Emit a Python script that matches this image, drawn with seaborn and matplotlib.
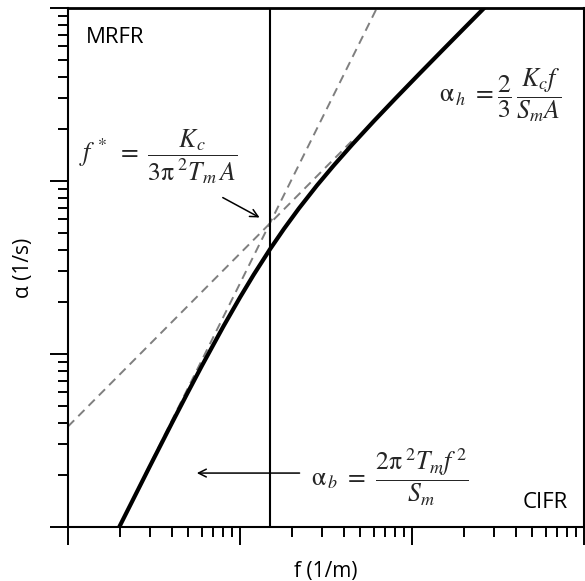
import matplotlib
matplotlib.use("Agg")
import matplotlib.pyplot as plt
import matplotlib.ticker as mticker
import seaborn as sns
import pandas as pd

# Combined attenuation curve alpha(f)
freq = [1.95, 2, 3, 4, 5, 6, 8, 10, 12, 14.9, 18, 22, 28, 35, 45, 60, 80, 110, 150, 200, 265]
alpha = [0.964, 1.014, 2.257, 3.953, 6.062, 8.542, 14.42, 21.24, 28.69, 40.16, 52.84,
         69.41, 94.2, 122.7, 162.8, 221.9, 299.6, 415.3, 568.7, 759.9, 1008.1]

# Asymptotes: bending (slope 2) and hinge (slope 1)
bend_f = [1.977, 62.5]
bend_a = [1.0, 1000.0]
hinge_f = [1.0, 44.5]
hinge_a = [3.81, 169.5]

# Crossover frequency
f_star = 14.9

sns.set_theme(style="ticks")
plt.rcParams["font.family"] = ["Open Sans", "DejaVu Sans"]
plt.rcParams["mathtext.fontset"] = "stix"

fig = plt.figure(figsize=(5.85, 5.81), dpi=100)
ax = fig.add_axes([68 / 585, 54 / 581, 516 / 585, 519 / 581])

curve = pd.DataFrame({"f": freq, "alpha": alpha})
bend = pd.DataFrame({"f": bend_f, "alpha": bend_a})
hinge = pd.DataFrame({"f": hinge_f, "alpha": hinge_a})

dash = (4.5, 3)
sns.lineplot(data=bend, x="f", y="alpha", ax=ax, color="#7f7f7f", lw=1.4,
             estimator=None, sort=False, linestyle=(0, dash))
sns.lineplot(data=hinge, x="f", y="alpha", ax=ax, color="#7f7f7f", lw=1.4,
             estimator=None, sort=False, linestyle=(0, dash))
sns.lineplot(data=curve, x="f", y="alpha", ax=ax, color="black", lw=3.0,
             estimator=None, sort=False)
ax.axvline(f_star, color="black", lw=1.5)

ax.set_xscale("log")
ax.set_yscale("log")
ax.set_xlim(1, 1000)
ax.set_ylim(1, 1000)

ax.xaxis.set_major_locator(mticker.LogLocator(base=10, numticks=10))
ax.yaxis.set_major_locator(mticker.LogLocator(base=10, numticks=10))
ax.xaxis.set_minor_locator(mticker.LogLocator(base=10, subs=range(2, 10), numticks=20))
ax.yaxis.set_minor_locator(mticker.LogLocator(base=10, subs=range(2, 10), numticks=20))
ax.xaxis.set_major_formatter(mticker.NullFormatter())
ax.yaxis.set_major_formatter(mticker.NullFormatter())
ax.xaxis.set_minor_formatter(mticker.NullFormatter())
ax.yaxis.set_minor_formatter(mticker.NullFormatter())
ax.tick_params(which="major", direction="out", length=13, width=1.4, color="black")
ax.tick_params(which="minor", direction="out", length=7, width=1.4, color="black")

for side in ["left", "right", "top", "bottom"]:
    ax.spines[side].set_visible(True)
    ax.spines[side].set_linewidth(1.5)
    ax.spines[side].set_color("black")
ax.spines["top"].set_linewidth(2.0)

ax.set_xlabel("f (1/m)", fontsize=15, labelpad=8, color="black")
ax.set_ylabel("α (1/s)", fontsize=15, labelpad=8, color="black")

ax.text(0.035, 0.963, "MRFR", transform=ax.transAxes, ha="left", va="top",
        fontsize=16, color="black")
ax.text(0.969, 0.027, "CIFR", transform=ax.transAxes, ha="right", va="bottom",
        fontsize=16, color="black")

ax.text(0.174, 0.713,
        r"$f^{\,*}\ =\ \dfrac{K_c}{3\mathrm{\pi}^{\;2}T_m\,A}$",
        transform=ax.transAxes, ha="center", va="center", fontsize=18.5)
ax.text(0.837, 0.832,
        r"$\mathrm{\alpha}_{\,h}\ =\dfrac{2}{3}\,\dfrac{K_c f}{S_m A}$",
        transform=ax.transAxes, ha="center", va="center", fontsize=18.5)
ax.text(0.624, 0.096,
        r"$\mathrm{\alpha}_{\,b}\ =\ \dfrac{2\mathrm{\pi}^{\;2}T_m f^{\,2}}{S_m}$",
        transform=ax.transAxes, ha="center", va="center", fontsize=18.5)

arrow = dict(arrowstyle="->", lw=1.1, color="black", shrinkA=0, shrinkB=0,
             mutation_scale=14)
ax.annotate("", xy=(13.0, 61.5), xytext=(7.94, 80.2), arrowprops=arrow)
ax.annotate("", xy=(5.61, 2.05), xytext=(22.2, 2.05), arrowprops=arrow)

fig.savefig("out.png", dpi=100)
